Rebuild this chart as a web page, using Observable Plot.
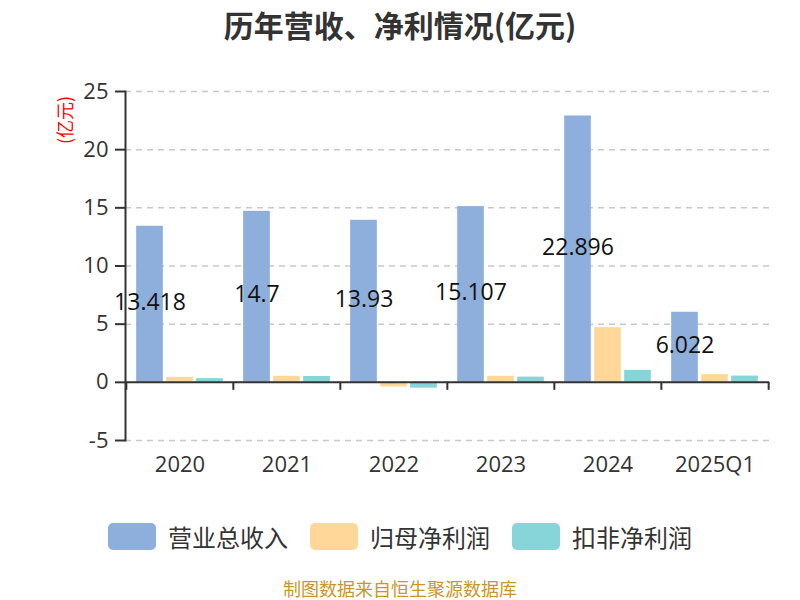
<!DOCTYPE html>
<html><head><meta charset="utf-8">
<script src="https://cdn.jsdelivr.net/npm/d3@7"></script>
<script src="https://cdn.jsdelivr.net/npm/@observablehq/plot@0.6"></script>
<style>
body{margin:0;background:#fff;}
#wrap{position:relative;width:800px;height:600px;overflow:hidden;font-family:"Open Sans","Noto Sans CJK SC",sans-serif;}
#title{position:absolute;top:2px;left:0;width:800px;text-align:center;font-size:30px;font-weight:bold;color:#333;font-family:"Noto Sans CJK SC",sans-serif;line-height:44px;}
#chart{position:absolute;top:0;left:0;}
#unit{position:absolute;left:63.5px;top:120px;transform:translate(-50%,-50%) rotate(-90deg);font-family:"Noto Sans CJK SC",sans-serif;font-size:18px;color:red;white-space:nowrap;line-height:20px;}
#legend{position:absolute;top:519px;left:0;width:800px;display:flex;justify-content:center;align-items:center;font-family:"Noto Sans CJK SC",sans-serif;font-size:24px;color:#333;}
.item{display:flex;align-items:center;margin:0 11px;}
.sw{width:48px;height:27px;border-radius:5px;margin-right:12px;}
#footer{position:absolute;top:578px;left:0;width:800px;text-align:center;font-family:"Noto Sans CJK SC",sans-serif;font-size:18px;color:#C9962B;line-height:20px;}
</style></head>
<body><div id="wrap">
<div id="chart"></div>
<div id="title"></div>
<div id="unit"></div>
<div id="legend"></div>
<div id="footer"></div>
</div>
<script>
const titleText = "历年营收、净利情况(亿元)";
const unitLabel = "(亿元)";
const footerText = "制图数据来自恒生聚源数据库";
const years = ["2020","2021","2022","2023","2024","2025Q1"];
const revenue = [13.418, 14.7, 13.93, 15.107, 22.896, 6.022];
const netProfit = [0.43, 0.52, -0.40, 0.52, 4.70, 0.66];
const deductedProfit = [0.32, 0.50, -0.50, 0.45, 1.03, 0.54];
const seriesNames = ["营业总收入","归母净利润","扣非净利润"];
const seriesColors = ["#8EAEDB","#FFD899","#87D5D8"];
const yTicks = [-5,0,5,10,15,20,25];

const W=800,H=600,mL=125,mR=31,mT=91,mB=160;
const bw=(W-mL-mR)/years.length, c=bw/2, barW=27, gap=30;
const rows = years.map((y,i)=>({year:y, revenue:revenue[i], net:netProfit[i], ded:deductedProfit[i]}));
const keys = ["revenue","net","ded"];
function insets(k){const center=c+k*gap;return {insetLeft:center-barW/2, insetRight:bw-(center+barW/2)};}

document.getElementById("title").textContent = titleText;
document.getElementById("unit").textContent = unitLabel;
document.getElementById("footer").textContent = footerText;
const lg = document.getElementById("legend");
seriesNames.forEach((n,i)=>{
  const it=document.createElement("div");it.className="item";
  const sw=document.createElement("div");sw.className="sw";sw.style.background=seriesColors[i];
  const t=document.createElement("span");t.textContent=n;
  it.appendChild(sw);it.appendChild(t);lg.appendChild(it);
});

const chart = Plot.plot({
  width:W, height:H, marginLeft:mL, marginRight:mR, marginTop:mT, marginBottom:mB,
  style:{fontFamily:'"Open Sans","Noto Sans CJK SC",sans-serif', fontSize:"22px", color:"#333", background:"transparent"},
  x:{domain:years, padding:0, label:null},
  y:{domain:[-5,25], label:null},
  marks:[
    Plot.gridY(yTicks,{stroke:"#c8c8c8", strokeOpacity:1, strokeWidth:1.5, strokeDasharray:"6,5"}),
    ...keys.map((k,i)=>Plot.barY(rows,{x:"year", y:k, fill:seriesColors[i], ...insets(i-1)})),
    Plot.ruleY([0],{stroke:"#333", strokeWidth:2}),
    Plot.ruleX(years,{x:d=>d, y1:0, y2:0, insetBottom:-8, dx:-bw/2, stroke:"#333", strokeWidth:2}),
    Plot.ruleX([years[years.length-1]],{x:d=>d, y1:0, y2:0, insetBottom:-8, dx:bw/2, stroke:"#333", strokeWidth:2}),
    Plot.frame({anchor:"left", stroke:"#333", strokeWidth:2}),
    Plot.axisY(yTicks,{tickSize:10, tickPadding:7, fontSize:22, stroke:"#333", strokeWidth:2, label:null, tickFormat:d=>String(d)}),
    Plot.axisX({anchor:"bottom", tickSize:0, tickPadding:16, fontSize:22, label:null}),
    Plot.text(rows,{x:"year", y:d=>d.revenue/2, text:d=>String(d.revenue), dx:-gap, dy:-2, fontSize:23, fill:"#111"})
  ]
});
document.getElementById("chart").appendChild(chart);
</script>
</body></html>
